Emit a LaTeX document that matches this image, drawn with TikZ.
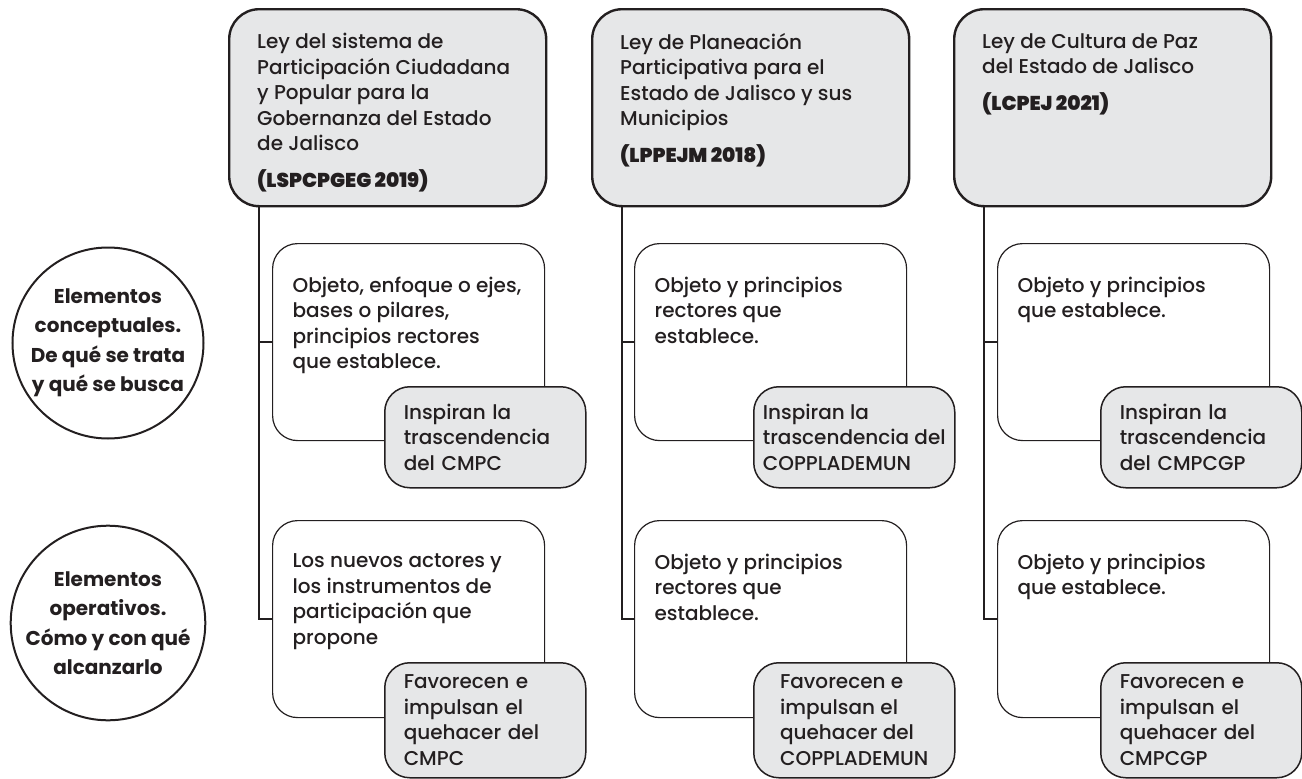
\documentclass[tikz,border=0pt]{standalone}
\usepackage{fontspec}
\setmainfont{Poppins}[UprightFont=*-Medium, BoldFont=*-Bold]
\newfontfamily\negra{Poppins}[UprightFont=*-Black]
\definecolor{grisclaro}{HTML}{E6E7E8}
\definecolor{tinta}{HTML}{231F20}

\begin{document}
\begin{tikzpicture}[x=1pt,y=-1pt, text=tinta, font=\fontsize{20}{25.5}\selectfont,
  ley/.style={draw=tinta, line width=2.4pt, fill=grisclaro, rounded corners=30pt, anchor=north west,
    minimum width=317pt, minimum height=197pt, inner xsep=28pt, inner ysep=24pt,
    execute at begin node={\begin{minipage}[t][149pt][t]{261pt}\raggedright},
    execute at end node={\end{minipage}}},
  caja/.style={draw=tinta, line width=1.2pt, fill=white, rounded corners=25pt, anchor=north west,
    minimum width=272pt, minimum height=197pt, inner xsep=20pt, inner ysep=33pt,
    execute at begin node={\begin{minipage}[t][131pt][t]{232pt}\raggedright},
    execute at end node={\end{minipage}}},
  gris/.style={draw=tinta, line width=1.5pt, fill=grisclaro, rounded corners=25pt, anchor=north west,
    minimum width=201pt, inner xsep=19pt, inner ysep=3pt, text width=163pt, align=left},
  ancha/.style={text width=, inner xsep=8pt},
  circulo/.style={draw=tinta, line width=2pt, circle, minimum size=191pt, inner sep=0pt, align=center,
    font=\bfseries\fontsize{20}{29.5}\selectfont},
  tronco/.style={draw=tinta, line width=2.3pt}]

\useasboundingbox (0,0) rectangle (1302,779);

\node[ley] (ley1) at (228,8) {Ley del sistema de\\ Participación Ciudadana\\ y Popular para la\\ Gobernanza del Estado\\ de Jalisco\\[11.5pt] {\negra (LSPCPGEG 2019)}};
\node[ley] (ley2) at (591,8) {Ley de Planeación\\ Participativa para el\\ Estado de Jalisco y sus\\ Municipios\\[11.5pt] {\negra (LPPEJM 2018)}};
\node[ley] (ley3) at (953,8) {Ley de Cultura de Paz\\ del Estado de Jalisco\\[11.5pt] {\negra (LCPEJ 2021)}};

\node[circulo] (concep) at (108,343) {Elementos\\ conceptuales.\\ De qué se trata\\ y qué se busca};
\node[circulo] (operat) at (108,623) {Elementos\\ operativos.\\ Cómo y con qué\\ alcanzarlo};

\node[caja] (con1) at (272,243) {Objeto, enfoque o ejes,\\ bases o pilares,\\ principios rectores\\ que establece.};
\node[caja] (con2) at (634,243) {Objeto y principios\\ rectores que\\ establece.};
\node[caja] (con3) at (997,243) {Objeto y principios\\ que establece.};
\node[caja] (ope1) at (272,520) {Los nuevos actores y\\ los instrumentos de\\ participación que\\ propone};
\node[caja] (ope2) at (634,520) {Objeto y principios\\ rectores que\\ establece.};
\node[caja] (ope3) at (997,520) {Objeto y principios\\ que establece.};

\node[gris, minimum height=101pt] (ins1) at (384,386) {Inspiran la\\ trascendencia\\ del CMPC};
\node[gris, ancha, minimum height=101pt] (ins2) at (753,386) {Inspiran la\\ trascendencia del\\ COPPLADEMUN};
\node[gris, minimum height=101pt] (ins3) at (1100,386) {Inspiran la\\ trascendencia\\ del CMPCGP};
\node[gris, minimum height=115pt] (fav1) at (384,662) {Favorecen e\\ impulsan el\\ quehacer del\\ CMPC};
\node[gris, ancha, minimum height=115pt] (fav2) at (753,662) {Favorecen e\\ impulsan el\\ quehacer del\\ COPPLADEMUN};
\node[gris, minimum height=115pt] (fav3) at (1100,662) {Favorecen e\\ impulsan el\\ quehacer del\\ CMPCGP};

\foreach \c in {1,2,3} \draw[tronco] ([xshift=31pt]ley\c.south west) |- (con\c.west) ([xshift=31pt]ley\c.south west) |- (ope\c.west);

\end{tikzpicture}
\end{document}
